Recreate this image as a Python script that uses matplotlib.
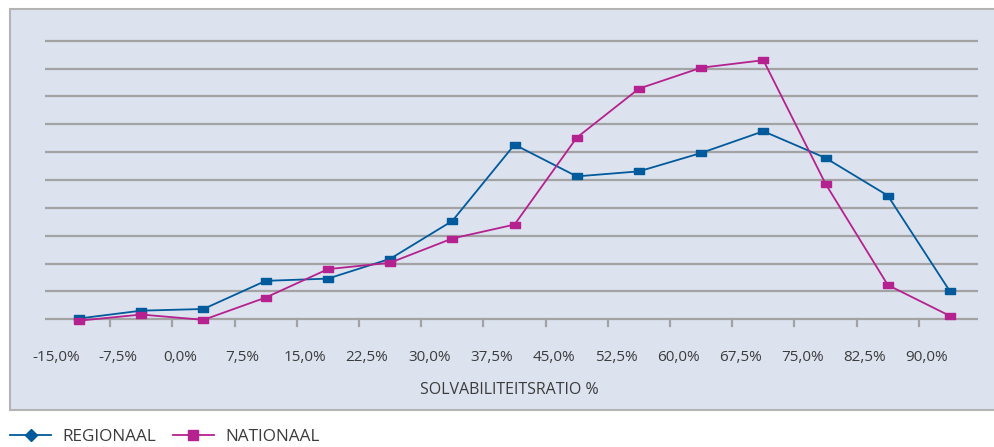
import numpy as np
import matplotlib
matplotlib.use('Agg')
import matplotlib.pyplot as plt
from matplotlib.lines import Line2D
from matplotlib.patches import Rectangle

# categories on the x axis
labels = ['-15,0%', '-7,5%', '0,0%', '7,5%', '15,0%', '22,5%', '30,0%', '37,5%',
          '45,0%', '52,5%', '60,0%', '67,5%', '75,0%', '82,5%', '90,0%']

# values (in grid-line units, no y scale shown)
regionaal = [0.03, 0.31, 0.37, 1.38, 1.46, 2.17, 3.53, 6.27, 5.13, 5.31, 5.97, 6.75, 5.79, 4.44, 1.00]
nationaal = [-0.05, 0.17, -0.02, 0.78, 1.80, 2.03, 2.90, 3.40, 6.52, 8.28, 9.03, 9.30, 4.86, 1.23, 0.12]

blue = '#005a9c'
magenta = '#b5218e'
grid_col = '#a3a3a3'
text_col = '#3c3c3c'

plt.rcParams['font.family'] = ['Open Sans', 'DejaVu Sans']

W, H = 995, 447
fig = plt.figure(figsize=(W / 100, H / 100), dpi=100)

# light blue panel behind the chart (runs off the right edge)
panel = Rectangle((9.5 / W, (H - 410) / H), (1010 - 9.5) / W, (410 - 9) / H,
                  transform=fig.transFigure, facecolor='#dce3ef',
                  edgecolor='#b4b4b4', lw=1.5, zorder=-1)
fig.patches.append(panel)

# grid 0..10 spans y=319.3 .. 40.7 px; pad the limits so edge lines are not clipped
unit = (319.3 - 40.7) / 10
pad = 0.15
top = 40.7 - pad * unit
bot = 319.3 + pad * unit
ax = fig.add_axes([45 / W, (H - bot) / H, 933 / W, (bot - top) / H])
ax.patch.set_alpha(0)

x = np.arange(len(labels))
rect = [(-1, -0.6), (1, -0.6), (1, 0.6), (-1, 0.6), (-1, -0.6)]
ax.plot(x, regionaal, color=blue, lw=1.3, marker=rect, markersize=7.5,
        clip_on=False, zorder=3)
ax.plot(x, nationaal, color=magenta, lw=1.3, marker=rect, markersize=7.5,
        clip_on=False, zorder=4)

ax.set_xlim(-0.547, 14.45)
ax.set_ylim(-pad, 10 + pad)
ax.set_yticks(np.arange(0, 11))
ax.yaxis.grid(True, color=grid_col, lw=1.6)
ax.set_axisbelow(True)
ax.tick_params(axis='y', left=False, labelleft=False)
for s in ax.spines.values():
    s.set_visible(False)

# tick marks on category boundaries, hanging from the zero line
ax.set_xticks(x[:-1] + 0.5)
ax.set_xticklabels([])
ax.tick_params(axis='x', which='major', length=0)
for xt in x[:-1] + 0.5:
    ax.plot([xt, xt], [0, -0.25], color=grid_col, lw=1.6, clip_on=False, zorder=1)

# labels shifted left of the points, like the original
ax.set_xticks(x - 0.37, minor=True)
ax.set_xticklabels(labels, minor=True)
ax.tick_params(axis='x', which='minor', length=0, pad=19, labelsize=11, labelcolor=text_col)

fig.text(509.7 / W, (H - 390) / H, 'SOLVABILITEITSRATIO %', ha='center', va='center',
         fontsize=11.5, color=text_col)

handles = [Line2D([], [], color=blue, lw=1.3, marker='D', markersize=6.5),
           Line2D([], [], color=magenta, lw=1.3, marker='s', markersize=6.5)]
fig.legend(handles, ['REGIONAAL', 'NATIONAAL'], loc='center left',
           bbox_to_anchor=(10 / W, (H - 437) / H), ncol=2, frameon=False,
           fontsize=12.3, labelcolor=text_col, borderpad=0, borderaxespad=0,
           handlelength=2.4, handletextpad=0.65, columnspacing=1.0)

fig.savefig('out.png', dpi=100)
